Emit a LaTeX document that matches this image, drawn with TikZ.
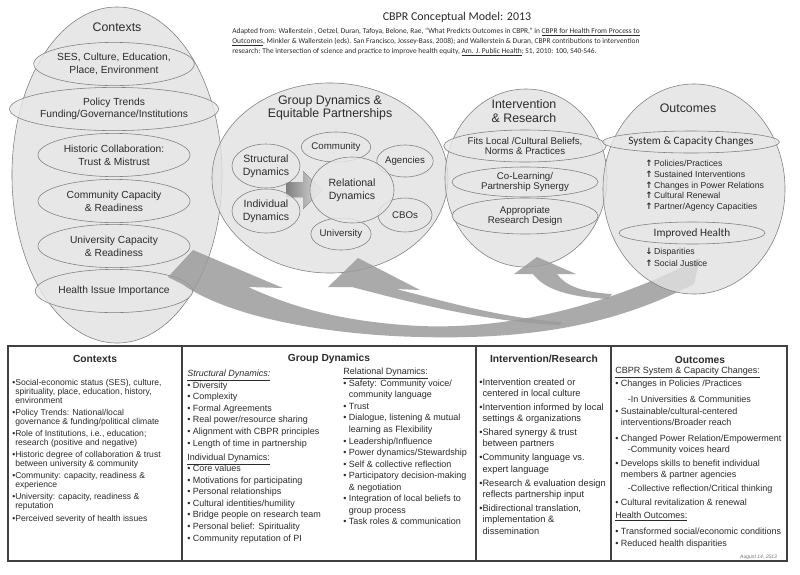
\documentclass[tikz,border=0pt]{standalone}
\usepackage{fontspec}
\usepackage{graphicx}
\setmainfont{Liberation Sans}
\newfontfamily\calib{Carlito}
\newfontfamily\symb{DejaVu Sans}
\usetikzlibrary{shapes,positioning}

\definecolor{ovalfill}{HTML}{E2E2E2}
\definecolor{innerfill}{HTML}{E8E8E8}
\definecolor{ovalline}{HTML}{7E7E7E}
\definecolor{swooshgray}{HTML}{9C9C9C}
\definecolor{ink}{HTML}{2B2B2B}

\newcommand{\bl}{\textbullet}
\newcommand{\uparr}{{\symb\bfseries ↑}}
\newcommand{\dnarr}{{\symb\bfseries ↓}}

\begin{document}
\begin{tikzpicture}[x=0.025cm, y=-0.025cm,
  bigoval/.style={ellipse, draw=ovalline, fill=ovalfill, fill opacity=0.8, inner sep=0pt},
  oval/.style={ellipse, draw=ovalline, fill=innerfill, fill opacity=0.8, text opacity=1, inner sep=0pt, align=center, text=ink},
  headtxt/.style={align=center, text=ink, font=\fontsize{8.8}{9.6}\selectfont},
  ctxtxt/.style={font=\fontsize{7.3}{9}\selectfont},
  grptxt/.style={font=\fontsize{7.5}{9}\selectfont},
  smalltxt/.style={font=\fontsize{6.9}{8}\selectfont},
  inttxt/.style={font=\fontsize{6.9}{7.7}\selectfont},
  caltxt/.style={font=\calib\fontsize{8}{9}\selectfont},
  swoosh/.style={fill=swooshgray, fill opacity=0.85},
  coltxt/.style={anchor=north west, align=left, inner sep=0pt, text=ink},
  colhead/.style={font=\bfseries\fontsize{7.3}{8}\selectfont, text=ink},
  tableline/.style={draw=black!75, line width=0.8pt}
  ]
  \useasboundingbox (0,0) rectangle (800,574);
  \fill[white] (0,0) rectangle (800,574);

  % big ovals
  \node[bigoval, minimum width=5.25cm, minimum height=8.4cm] (ctx) at (117,175) {};
  \node[bigoval, minimum width=5.9cm, minimum height=4.75cm] (grp) at (330,178) {};
  \node[bigoval, minimum width=4.05cm, minimum height=4.45cm] (int) at (526,178) {};

  \node[headtxt] (ctxtitle) at (117,27) {Contexts};
  \node[headtxt] (grptitle) at (330,108) {Group Dynamics \&\\Equitable Partnerships};
  \node[headtxt] (inttitle) at (524,111) {Intervention\\\& Research};

  % contexts
  \node[oval, ctxtxt, minimum width=3.8cm, minimum height=1.08cm] (ses) at (114,64) {SES, Culture, Education,\\Place, Environment};
  \node[oval, ctxtxt, minimum width=3.8cm, minimum height=1.08cm] (pol) at (114,109) {Policy Trends\\Funding/Governance/Institutions};
  \node[oval, ctxtxt, minimum width=3.8cm, minimum height=1.08cm] (hist) at (114,155) {Historic Collaboration:\\Trust \& Mistrust};
  \node[oval, ctxtxt, minimum width=3.8cm, minimum height=1.08cm] (ccap) at (114,201) {Community Capacity\\\& Readiness};
  \node[oval, ctxtxt, minimum width=3.8cm, minimum height=1.08cm] (ucap) at (114,246) {University Capacity\\\& Readiness};
  \node[oval, ctxtxt, minimum width=3.8cm, minimum height=1.08cm] (hii) at (114,291) {Health Issue Importance};

  % group dynamics
  \fill[left color=black!50, right color=black!12] (286,182) -- (303,182) -- (303,171)
    -- (322,190) -- (303,209) -- (303,197) -- (286,197) -- cycle;
  \node[oval, grptxt, minimum width=1.7cm, minimum height=1.1cm] (struct) at (266,166) {Structural\\Dynamics};
  \node[oval, grptxt, minimum width=1.7cm, minimum height=1.1cm] (indiv) at (266,211) {Individual\\Dynamics};
  \node[oval, smalltxt, minimum width=1.35cm, minimum height=0.75cm] (comm) at (336,147) {Community};
  \node[oval, smalltxt, minimum width=1.35cm, minimum height=0.8cm] (agen) at (405,161) {Agencies};
  \node[oval, smalltxt, minimum width=1.35cm, minimum height=0.85cm] (cbos) at (405,215) {CBOs};
  \node[oval, smalltxt, minimum width=1.35cm, minimum height=0.8cm] (univ) at (341,234) {University};
  \node[oval, grptxt, minimum width=2.1cm, minimum height=1.65cm] (rel) at (352,190) {Relational\\Dynamics};

  % intervention
  \node[oval, inttxt, minimum width=3.65cm, minimum height=0.8cm] (fits) at (525,146) {Fits Local /Cultural Beliefs,\\Norms \& Practices};
  \node[oval, inttxt, minimum width=3.65cm, minimum height=0.75cm] (colearn) at (525,182) {Co-Learning/\\Partnership Synergy};
  \node[oval, inttxt, minimum width=3.65cm, minimum height=0.9cm] (design) at (525,216) {Appropriate\\Research Design};

  % feedback arrows
  \fill[swoosh] (193,250) -- (283,288) -- (248,287)
    .. controls (290,306) and (340,322) .. (420,326)
    .. controls (520,330) and (620,300) .. (700,258)
    -- (694,284)
    .. controls (620,322) and (540,340) .. (420,337)
    .. controls (330,335) and (230,318) .. (182,284)
    -- (168,277) -- cycle;
  \fill[swoosh] (358,258) -- (420,290) -- (396,289)
    .. controls (440,300) and (500,318) .. (562,322)
    -- (560,325)
    .. controls (490,322) and (420,305) .. (352,287)
    -- (328,287) -- cycle;
  \fill[swoosh] (537,257) -- (576,274) -- (557,274)
    .. controls (565,285) and (580,292) .. (612,294)
    -- (608,299)
    .. controls (570,297) and (545,290) .. (533,274)
    -- (514,274) -- cycle;

  % outcomes
  \node[bigoval, minimum width=4.55cm, minimum height=5.25cm] (out) at (694,189) {};
  \node[headtxt] (outtitle) at (688,108) {Outcomes};
  \node[oval, caltxt, minimum width=3.65cm, minimum height=0.55cm] (sys) at (691,142) {System \& Capacity Changes};
  \node[coltxt, font=\fontsize{6.2}{7.6}\selectfont] (syslist) at (645,160) {%
    \uparr\,Policies/Practices\\
    \uparr\,Sustained Interventions\\
    \uparr\,Changes in Power Relations\\
    \uparr\,Cultural Renewal\\
    \uparr\,Partner/Agency Capacities};
  \node[oval, caltxt, minimum width=3.65cm, minimum height=0.55cm] (health) at (692,233) {Improved Health};
  \node[coltxt, font=\fontsize{6.2}{8.4}\selectfont] (hlist) at (645,248) {%
    \dnarr\,Disparities\\
    \uparr\,Social Justice};

  % title and source
  \node[font=\calib\fontsize{8.5}{10}\selectfont, text=ink] (title) at (457,17) {CBPR Conceptual Model: 2013};
  \node[coltxt, font=\calib\fontsize{5.3}{7.1}\selectfont] (cite) at (232,28) {%
    Adapted from: Wallerstein , Oetzel, Duran, Tafoya, Belone, Rae, “What Predicts Outcomes in CBPR,” in \underline{CBPR for Health From Process to}\\
    \underline{Outcomes}, Minkler \& Wallerstein (eds). San Francisco, Jossey-Bass, 2008); and Wallerstein \& Duran, CBPR contributions to intervention\\
    research: The intersection of science and practice to improve health equity, \underline{Am. J. Public Health}; S1, 2010: 100, S40-S46.};

  % table
  \draw[tableline] (8,346) rectangle (787,561);
  \draw[tableline] (182,346) -- (182,561);
  \draw[tableline] (476,346) -- (476,561);
  \draw[tableline] (611,346) -- (611,561);

  \node[colhead] (ctxhead) at (95,359) {Contexts};
  \node[colhead] (grphead) at (329,359) {Group Dynamics};
  \node[colhead] (inthead) at (544,359) {Intervention/Research};
  \node[colhead] (outhead) at (700,360) {Outcomes};

  \node[coltxt, font=\fontsize{6.1}{6.4}\selectfont] (ctxcol) at (12,379) {%
    \bl Social-economic status (SES), culture,\\
    \hphantom{\bl}spirituality, place, education, history,\\
    \hphantom{\bl}environment\\[2.2pt]
    \bl Policy Trends: National/local\\
    \hphantom{\bl}governance \& funding/political climate\\[2.2pt]
    \bl Role of Institutions, i.e., education;\\
    \hphantom{\bl}research (positive and negative)\\[2.2pt]
    \bl Historic degree of collaboration \& trust\\
    \hphantom{\bl}between university \& community\\[2.2pt]
    \bl Community: capacity, readiness \&\\
    \hphantom{\bl}experience\\[2.2pt]
    \bl University: capacity, readiness \&\\
    \hphantom{\bl}reputation\\[2.2pt]
    \bl Perceived severity of health issues};

  \node[coltxt, font=\fontsize{6.4}{8.2}\selectfont] (grpleft) at (187,370) {%
    \textit{\underline{Structural Dynamics:}}\\
    \bl\ Diversity\\
    \bl\ Complexity\\
    \bl\ Formal Agreements\\
    \bl\ Real power/resource sharing\\
    \bl\ Alignment with CBPR principles\\
    \bl\ Length of time in partnership\\[2pt]
    \underline{Individual Dynamics:}\\
    \bl\ Core values\\
    \bl\ Motivations for participating\\
    \bl\ Personal relationships\\
    \bl\ Cultural identities/humility\\
    \bl\ Bridge people on research team\\
    \bl\ Personal belief: Spirituality\\
    \bl\ Community reputation of PI};

  \node[coltxt, font=\fontsize{6.4}{8.2}\selectfont] (grpright) at (343,368) {%
    \underline{Relational Dynamics:}\\
    \bl\ Safety: Community voice/\\
    \hphantom{\bl\ }community language\\
    \bl\ Trust\\
    \bl\ Dialogue, listening \& mutual\\
    \hphantom{\bl\ }learning as Flexibility\\
    \bl\ Leadership/Influence\\
    \bl\ Power dynamics/Stewardship\\
    \bl\ Self \& collective reflection\\
    \bl\ Participatory decision-making\\
    \hphantom{\bl\ }\& negotiation\\
    \bl\ Integration of local beliefs to\\
    \hphantom{\bl\ }group process\\
    \bl\ Task roles \& communication};

  \node[coltxt, font=\fontsize{6.6}{8}\selectfont] (intcol) at (479,378) {%
    \bl Intervention created or\\
    \hphantom{\bl}centered in local culture\\[2pt]
    \bl Intervention informed by local\\
    \hphantom{\bl}settings \& organizations\\[2pt]
    \bl Shared synergy \& trust\\
    \hphantom{\bl}between partners\\[2pt]
    \bl Community language vs.\\
    \hphantom{\bl}expert language\\[2pt]
    \bl Research \& evaluation design\\
    \hphantom{\bl}reflects partnership input\\[2pt]
    \bl Bidirectional translation,\\
    \hphantom{\bl}implementation \&\\
    \hphantom{\bl}dissemination};

  \node[coltxt, font=\fontsize{6.4}{7.8}\selectfont] (outcol) at (615,367) {%
    \underline{CBPR System \& Capacity Changes:}\\
    \bl\ Changes in Policies /Practices\\[3.5pt]
    \hspace{9pt}-In Universities \& Communities\\[0.7pt]
    \bl\ Sustainable/cultural-centered\\
    \hphantom{\bl\ }interventions/Broader reach\\[3.5pt]
    \bl\ Changed Power Relation/Empowerment\\
    \hspace{9pt}-Community voices heard\\[2.8pt]
    \bl\ Develops skills to benefit individual\\
    \hphantom{\bl\ }members \& partner agencies\\[2pt]
    \hspace{9pt}-Collective reflection/Critical thinking\\[2pt]
    \bl\ Cultural revitalization \& renewal\\[1.4pt]
    \underline{Health Outcomes:}\\[3.5pt]
    \bl\ Transformed social/economic conditions\\[0.7pt]
    \bl\ Reduced health disparities};

  \node[anchor=east, font=\itshape\fontsize{3.6}{4}\selectfont, text=black!55] (date) at (782,557) {August 14, 2013};
\end{tikzpicture}
\end{document}
